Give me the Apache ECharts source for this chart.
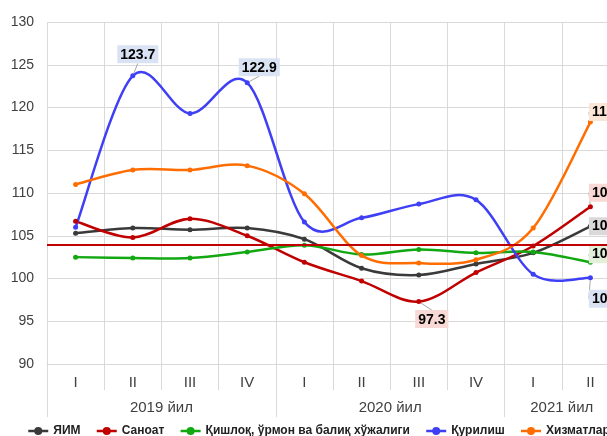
<!DOCTYPE html>
<html>
<head>
<meta charset="utf-8">
<script src="https://cdn.jsdelivr.net/npm/echarts@6/dist/echarts.min.js"></script>
<style>
  html, body { margin: 0; padding: 0; background: #fff; }
  #chart { width: 607px; height: 436px; }
</style>
</head>
<body>
<div id="chart"></div>
<script>
const quarters = ['I', 'II', 'III', 'IV', 'I', 'II', 'III', 'IV', 'I', 'II'];
const years = ['2019 йил', '2020 йил', '2021 йил'];
const yearSlots = [4, 12, 18];        // half-quarter positions of year captions
const yearBorders = [0, 8, 16, 20];   // half-quarter positions of year separators

const yim = [105.3, 105.9, 105.7, 105.9, 104.6, 101.2, 100.4, 101.7, 103.0, 106.1];
const sanoat = [106.7, 104.8, 107.0, 105.0, 101.9, 99.7, 97.3, 100.7, 103.8, 108.4];
const qishloq = [102.5, 102.4, 102.4, 103.1, 103.9, 102.8, 103.4, 103.0, 103.1, 101.9];
const qurilish = [106.0, 123.7, 119.3, 122.9, 106.6, 107.1, 108.7, 109.2, 100.5, 100.1];
const xizmat = [111.0, 112.7, 112.7, 113.2, 109.9, 102.7, 101.8, 102.2, 105.9, 118.3];
const baseLine = 104;

const gridColor = '#d9d9d9';
const textColor = '#404040';

// second (year) axis: 21 half-quarter points across the grid
const yearAxisData = [];
for (let i = 0; i <= 20; i++) {
  const k = yearSlots.indexOf(i);
  yearAxisData.push(k >= 0 ? years[k] : '');
}

function labelStyle(bg, pos) {
  return {
    show: true,
    position: pos,
    formatter: p => p.value.toFixed(1),
    color: '#000',
    fontFamily: 'Arial',
    fontWeight: 'bold',
    fontSize: 14,
    backgroundColor: bg,
    padding: [3, 3, 1, 3]
  };
}

// labelled points: { index: [bg, position, dx, dy] }
function makeData(values, labels) {
  return values.map((v, i) => {
    if (!labels || !labels[i]) return v;
    return { value: v, label: labelStyle(labels[i][0], labels[i][1]) };
  });
}

function makeLayout(labels) {
  return function (params) {
    const l = labels && labels[params.dataIndex];
    if (!l) return {};
    return { dx: l[2], dy: l[3] };
  };
}

// points + labels (line itself drawn by the curve series below)
function pointSeries(name, color, values, labels, extra) {
  return Object.assign({
    name: name,
    type: 'line',
    z: 3,
    data: makeData(values, labels),
    symbol: 'circle',
    symbolSize: 5,
    showSymbol: true,
    lineStyle: { color: color, width: 2.5, opacity: 0 },
    itemStyle: { color: color },
    labelLine: { show: true, lineStyle: { color: '#a6a6a6', width: 1 } },
    labelLayout: makeLayout(labels),
    emphasis: { disabled: true }
  }, extra || {});
}

// Excel-like smoothed line: Catmull-Rom segments through the data points
function curveSeries(name, color, values) {
  return {
    name: name,
    type: 'custom',
    z: 2,
    silent: true,
    data: values.map((v, i) => [i, v]),
    encode: { x: 0, y: 1 },
    renderItem: function (params, api) {
      const i = params.dataIndex;
      const n = values.length;
      if (i >= n - 1) return null;
      const pt = j => {
        const k = Math.max(0, Math.min(n - 1, j));
        return api.coord([k, values[k]]);
      };
      const p0 = pt(i - 1), p1 = pt(i), p2 = pt(i + 1), p3 = pt(i + 2);
      return {
        type: 'bezierCurve',
        shape: {
          x1: p1[0], y1: p1[1],
          x2: p2[0], y2: p2[1],
          cpx1: p1[0] + (p2[0] - p0[0]) / 6, cpy1: p1[1] + (p2[1] - p0[1]) / 6,
          cpx2: p2[0] - (p3[0] - p1[0]) / 6, cpy2: p2[1] - (p3[1] - p1[1]) / 6
        },
        style: { fill: null, stroke: color, lineWidth: 2.5, lineCap: 'round' }
      };
    }
  };
}

const names = ['ЯИМ', 'Саноат', 'Қишлоқ, ўрмон ва балиқ хўжалиги', 'Қурилиш', 'Хизматлар'];
const colors = ['#3a3a3a', '#c00000', '#12a812', '#3f3ff5', '#ff6d00'];
const values = [yim, sanoat, qishloq, qurilish, xizmat];

const chart = echarts.init(document.getElementById('chart'));

const option = {
  animation: false,
  grid: { left: 47, top: 22, width: 572, height: 342, outerBoundsMode: 'none' },
  legend: {
    data: names,
    left: 27,
    top: 425,
    width: 600,
    padding: 0,
    itemWidth: 20,
    itemHeight: 10,
    itemGap: 15,
    lineStyle: { opacity: 1, width: 2.5 },
    textStyle: { fontFamily: 'Arial', fontWeight: 'bold', fontSize: 12, color: '#222' }
  },
  xAxis: [
    {
      type: 'category',
      data: quarters,
      position: 'bottom',
      boundaryGap: true,
      axisLine: { show: true, lineStyle: { color: gridColor } },
      axisTick: { show: true, length: 26, interval: 0, lineStyle: { color: gridColor } },
      splitLine: { show: true, interval: 0, lineStyle: { color: gridColor } },
      axisLabel: { interval: 0, margin: 11, color: textColor, fontFamily: 'Arial', fontSize: 15 }
    },
    {
      type: 'category',
      data: yearAxisData,
      position: 'bottom',
      offset: 0,
      boundaryGap: false,
      axisLine: { show: false },
      axisTick: {
        show: true, length: 53,
        interval: i => yearBorders.indexOf(i) >= 0,
        lineStyle: { color: gridColor }
      },
      splitLine: { show: false },
      axisLabel: {
        interval: i => yearSlots.indexOf(i) >= 0,
        margin: 36, color: textColor, fontFamily: 'Arial', fontSize: 15
      }
    }
  ],
  yAxis: {
    type: 'value',
    min: 90,
    max: 130,
    interval: 5,
    axisLine: { show: false },
    axisTick: { show: false },
    splitLine: { lineStyle: { color: gridColor } },
    axisLabel: { margin: 13, color: textColor, fontFamily: 'Arial', fontSize: 14 }
  },
  series: [
    pointSeries(names[0], colors[0], yim, { 9: ['#d9d9d9', 'right', -9, 0] }, {
      markLine: {
        silent: true,
        symbol: ['none', 'none'],
        label: { show: false },
        lineStyle: { color: '#c00000', width: 2, type: 'solid' },
        data: [{ yAxis: baseLine }]
      }
    }),
    pointSeries(names[1], colors[1], sanoat, {
      6: ['#f9d9d6', 'bottom', 13, 1],
      9: ['#f9d9d6', 'right', -9, -14]
    }),
    pointSeries(names[2], colors[2], qishloq, {
      9: ['#e2f0d9', 'right', -9, -8]
    }),
    pointSeries(names[3], colors[3], qurilish, {
      1: ['#dae3f3', 'top', 5, -5],
      3: ['#dae3f3', 'top', 12, 1],
      9: ['#dae3f3', 'right', -9, 21]
    }),
    pointSeries(names[4], colors[4], xizmat, {
      9: ['#fbe5d6', 'right', -9, -10]
    })
  ].concat(names.map((n, k) => curveSeries(n, colors[k], values[k])))
};

chart.setOption(option);
window.addEventListener('resize', function () {
  chart.resize();
});
</script>
</body>
</html>
